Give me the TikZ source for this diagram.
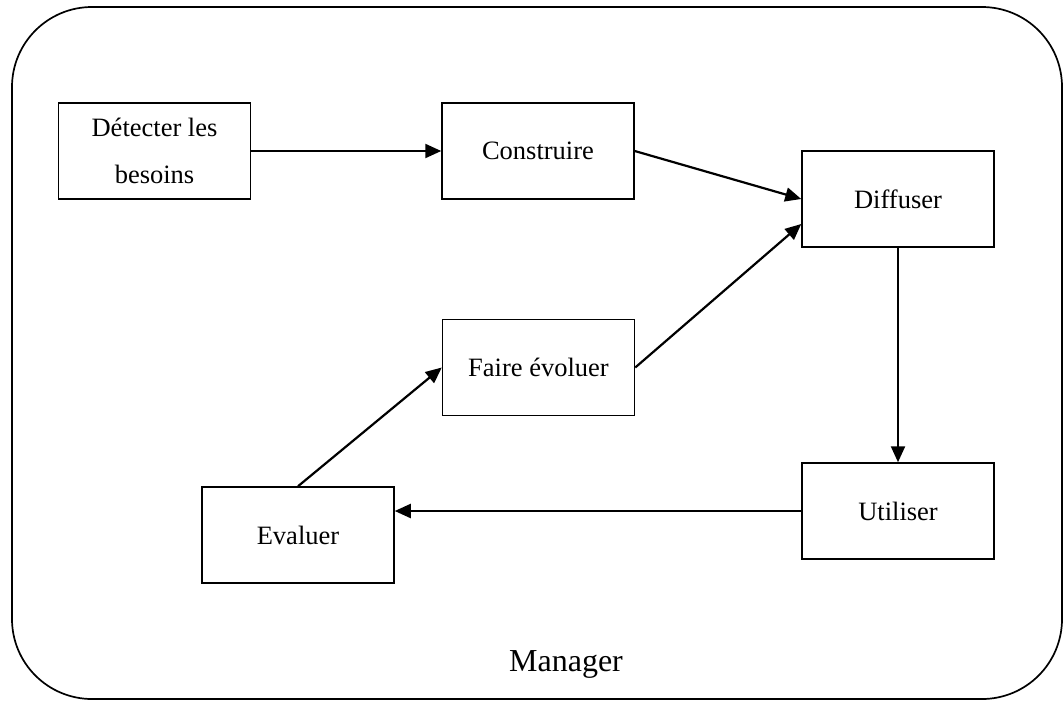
\documentclass[tikz,border=0pt]{standalone}
\usepackage{fontspec}
\setmainfont{Liberation Serif}
\usetikzlibrary{arrows.meta}

\begin{document}
\begin{tikzpicture}[x=0.5pt,y=-0.5pt,
  etape/.style={draw,line width=0.75pt,minimum width=96pt,minimum height=48pt,
    inner sep=0pt,align=center,font=\fontsize{13.25}{23.5}\selectfont},
  fleche/.style={line width=1.1pt,-{Triangle[length=8pt,width=7pt]}}]
\useasboundingbox(0,0)rectangle(1064,702);
\draw[line width=0.85pt,rounded corners=40pt](12,7)rectangle(1062,699);
\node[etape](detecter)at(154.5,151){Détecter les\\besoins};
\node[etape](construire)at(538,151){Construire};
\node[etape](diffuser)at(898,199){Diffuser};
\node[etape](evoluer)at(538.5,367.5){Faire évoluer};
\node[etape](evaluer)at(298,535){Evaluer};
\node[etape](utiliser)at(898,511){Utiliser};
\node[font=\fontsize{16}{19}\selectfont,anchor=base](manager)at(566,671){Manager};
\draw[fleche](detecter.east)--(construire.west);
\draw[fleche](construire.east)--(diffuser.west);
\draw[fleche](evoluer.east)--([yshift=-12.5pt]diffuser.west);
\draw[fleche](diffuser.south)--(utiliser.north);
\draw[fleche](utiliser.west)--(utiliser.west-|evaluer.east);
\draw[fleche](evaluer.north)--(evoluer.west);
\end{tikzpicture}
\end{document}
